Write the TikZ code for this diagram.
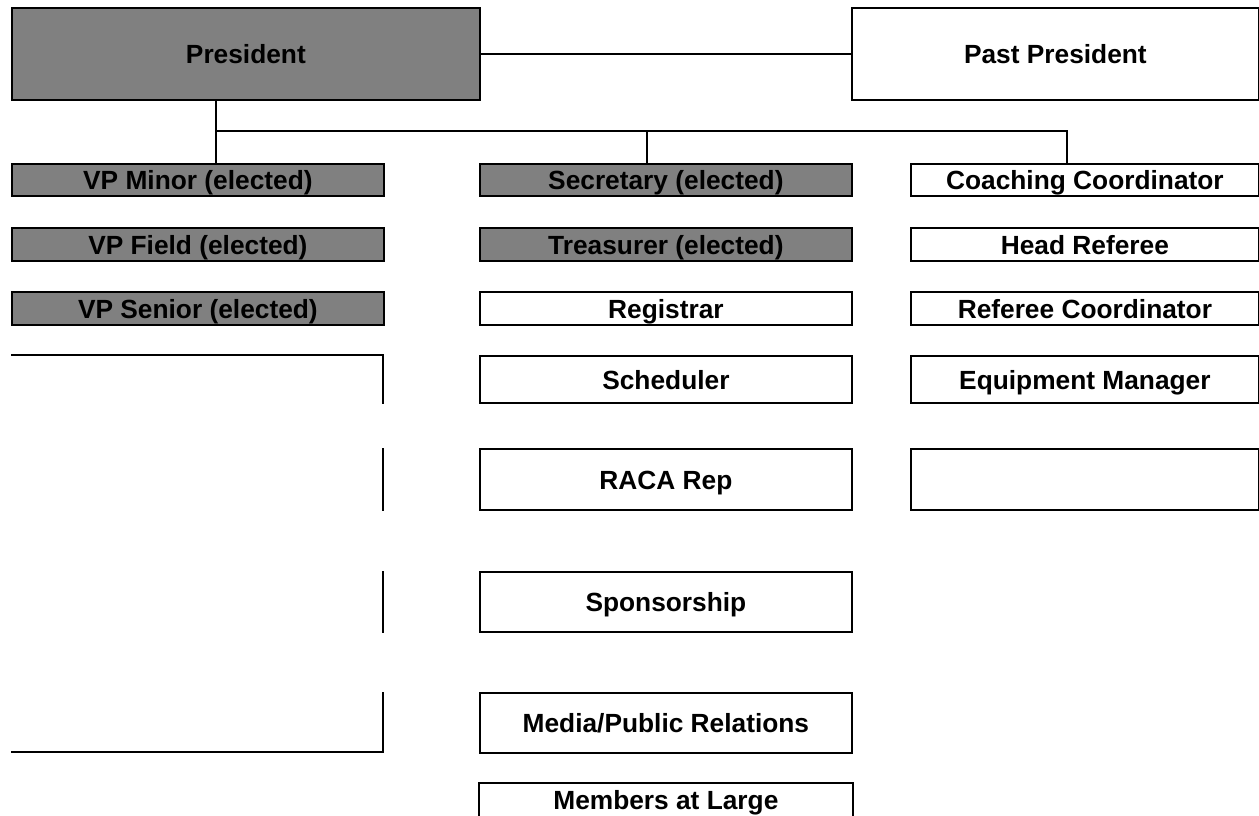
\documentclass[tikz,border=0pt]{standalone}
\usepackage{fontspec}
\setmainfont{Liberation Sans}
\begin{document}
\begin{tikzpicture}[x=1pt,y=-1pt,
  line width=1.8pt,
  box/.style={draw=black, fill=white, inner sep=0pt, anchor=north west,
    font=\fontsize{26.3}{29}\selectfont\bfseries,
    text height=25pt, text depth=5pt},
  elected/.style={box, fill=boxgray},
  wide/.style={minimum width=372pt},
  right/.style={minimum width=348pt},
  line/.style={draw=black, line width=1.8pt}]
\definecolor{boxgray}{HTML}{808080}
\useasboundingbox (0,0) rectangle (1259,816);

% top row
\node[elected, minimum width=468pt, minimum height=92pt] (pres) at (11,7) {President};
\node[box, minimum width=407pt, minimum height=92pt] (past) at (851,7) {Past President};

% left column
\node[elected, wide, minimum height=32pt] (vpminor) at (11,163) {VP Minor (elected)};
\node[elected, wide, minimum height=33pt] (vpfield) at (11,227) {VP Field (elected)};
\node[elected, wide, minimum height=33pt] (vpsenior) at (11,291) {VP Senior (elected)};

% middle column
\node[elected, wide, minimum height=32pt] (sec) at (479,163) {Secretary (elected)};
\node[elected, wide, minimum height=33pt] (treas) at (479,227) {Treasurer (elected)};
\node[box, wide, minimum height=33pt] (reg) at (479,291) {Registrar};
\node[box, wide, minimum height=47pt] (sched) at (479,355) {Scheduler};
\node[box, wide, minimum height=61pt] (raca) at (479,448) {RACA Rep};
\node[box, wide, minimum height=60pt] (spons) at (479,571) {Sponsorship};
\node[box, wide, minimum height=60pt] (media) at (479,692) {Media/Public Relations};
% last box runs off the page edge, so its lower side is not drawn
\node[box, draw=none, wide, minimum height=32pt] (members) at (479,783) {Members at Large};
\draw[line] ([yshift=-4pt]members.south west) -- (members.north west)
  -- (members.north east) -- ([yshift=-4pt]members.south east);

% right column
\node[box, right, minimum height=32pt] (coach) at (910,163) {Coaching Coordinator};
\node[box, right, minimum height=33pt] (headref) at (910,227) {Head Referee};
\node[box, right, minimum height=33pt] (refcoord) at (910,291) {Referee Coordinator};
\node[box, right, minimum height=47pt] (equip) at (910,355) {Equipment Manager};
\node[box, right, minimum height=61pt] (blank) at (910,448) {};

% open frame under the VPs
\coordinate (fl) at (11,355);
\coordinate (fr) at (383,355);
\draw[line] (fl) -- (fr) -- (fr |- sched.south);
\draw[line] (fr |- raca.north) -- (fr |- raca.south);
\draw[line] (fr |- spons.north) -- (fr |- spons.south);
\coordinate (bl) at (11,752);
\draw[line] (fr |- media.north) -- (fr |- bl) -- (bl);

% connectors
\coordinate (j0) at (216,131);
\coordinate (j1) at (647,131);
\coordinate (j2) at (1067,131);
\draw[line] (pres.east) -- (past.west);
\draw[line] (j0 |- pres.south) -- (j0 |- vpminor.north);
\draw[line] (j0) -- (j1) -- (j2) -- (j2 |- coach.north);
\draw[line] (j1) -- (j1 |- sec.north);
\end{tikzpicture}
\end{document}
